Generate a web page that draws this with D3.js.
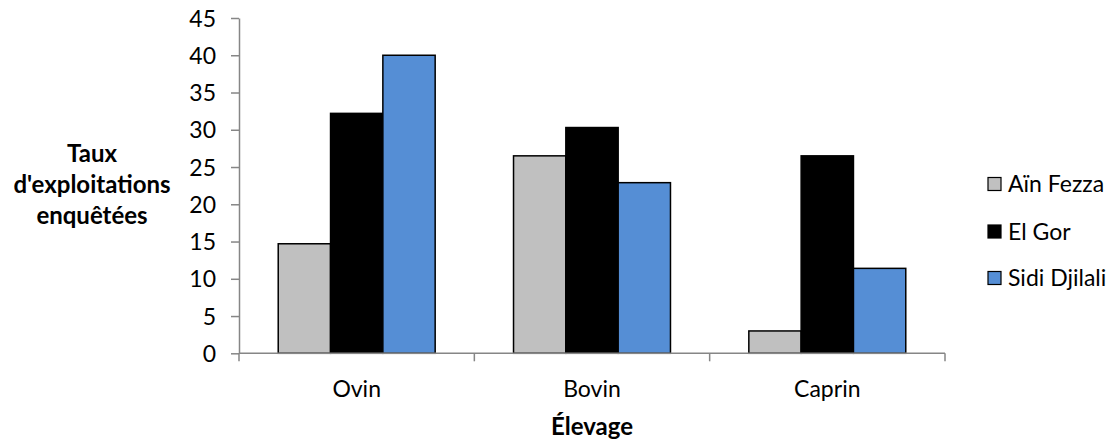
<!DOCTYPE html>
<html>
<head>
<meta charset="utf-8">
<script src="https://cdn.jsdelivr.net/npm/d3@7"></script>
<style>
  html, body { margin: 0; padding: 0; background: #fff; }
  svg { display: block; font-family: Lato, "Open Sans", sans-serif; }
</style>
</head>
<body>
<svg id="chart" width="1119" height="443"></svg>
<script>
const categories = ["Ovin", "Bovin", "Caprin"];
const seriesNames = ["Aïn Fezza", "El Gor", "Sidi Djilali"];
const ainFezza = [14.7, 26.5, 3.0];
const elGor = [32.2, 30.3, 26.5];
const sidiDjilali = [40.0, 22.9, 11.4];
const yTicks = [0, 5, 10, 15, 20, 25, 30, 35, 40, 45];
const colors = ["#C0C0C0", "#000000", "#558ED5"];
const yTitleLines = ["Taux", "d'exploitations", "enquêtées"];
const xTitle = "Élevage";

const seriesValues = [ainFezza, elGor, sidiDjilali];
const svg = d3.select("#chart");

const x0 = 239, x1 = 945, yBottom = 353.3, yTop = 18;
const x = d3.scaleBand().domain(categories).range([x0, x1]).paddingInner(0.333).paddingOuter(0.1667);
const xs = d3.scaleBand().domain(seriesNames).range([0, x.bandwidth()]);
const y = d3.scaleLinear().domain([0, 45]).range([yBottom, yTop]);
const axisColor = "#868686";

// bars
const groups = svg.append("g").selectAll("g").data(categories).join("g")
  .attr("transform", d => `translate(${x(d)},0)`);
groups.selectAll("rect")
  .data((c, ci) => seriesNames.map((s, si) => ({ s, si, v: seriesValues[si][ci] })))
  .join("rect")
  .attr("x", d => xs(d.s))
  .attr("y", d => y(d.v))
  .attr("width", xs.bandwidth())
  .attr("height", d => y(0) - y(d.v))
  .attr("fill", d => colors[d.si])
  .attr("stroke", "#000")
  .attr("stroke-width", 1.5);

// y axis
const yAxis = svg.append("g").attr("transform", `translate(${x0},0)`)
  .call(d3.axisLeft(y).tickValues(yTicks).tickSize(8).tickPadding(15).tickSizeOuter(0));
yAxis.select(".domain").attr("stroke", axisColor).attr("stroke-width", 1.5);
yAxis.selectAll(".tick line").attr("stroke", axisColor).attr("stroke-width", 1.5);
yAxis.selectAll(".tick text").attr("fill", "#000").style("font-size", "23px")
  .style("font-family", "Lato, sans-serif").attr("dy", "0.35em");

// x axis
const xAxisG = svg.append("g").attr("transform", `translate(0,${yBottom})`);
xAxisG.append("line").attr("x1", x0).attr("x2", x1).attr("y1", 0).attr("y2", 0)
  .attr("stroke", axisColor).attr("stroke-width", 1.5);
const boundaries = categories.map(c => x(c) - x.step() * x.paddingInner() / 2).concat([x1]);
boundaries[0] = x0;
xAxisG.selectAll("line.tk").data(boundaries).join("line").attr("class", "tk")
  .attr("x1", d => d).attr("x2", d => d).attr("y1", 0).attr("y2", 8)
  .attr("stroke", axisColor).attr("stroke-width", 1.5);
xAxisG.selectAll("text").data(categories).join("text")
  .attr("x", d => x(d) + x.bandwidth() / 2)
  .attr("y", 44)
  .attr("text-anchor", "middle")
  .style("font-size", "23px")
  .text(d => d);

// x title
svg.append("text").attr("x", (x0 + x1) / 2).attr("y", 435)
  .attr("text-anchor", "middle").style("font-size", "24px").style("font-weight", "bold")
  .text(xTitle);

// y title
svg.append("text").attr("text-anchor", "middle").style("font-size", "24px").style("font-weight", "bold")
  .selectAll("tspan").data(yTitleLines).join("tspan")
  .attr("x", 92).attr("y", (d, i) => 162 + i * 31).text(d => d);

// legend
const legend = svg.append("g");
const legendY = [184, 231.5, 278];
const lg = legend.selectAll("g").data(seriesNames).join("g")
  .attr("transform", (d, i) => `translate(988,${legendY[i]})`);
lg.append("rect").attr("x", 0).attr("y", -6.5).attr("width", 13).attr("height", 13)
  .attr("fill", (d, i) => colors[i]).attr("stroke", "#000").attr("stroke-width", 1.2);
lg.append("text").attr("x", 20).attr("y", 0).attr("dy", "0.35em")
  .style("font-size", "23px").text(d => d);
</script>
</body>
</html>
